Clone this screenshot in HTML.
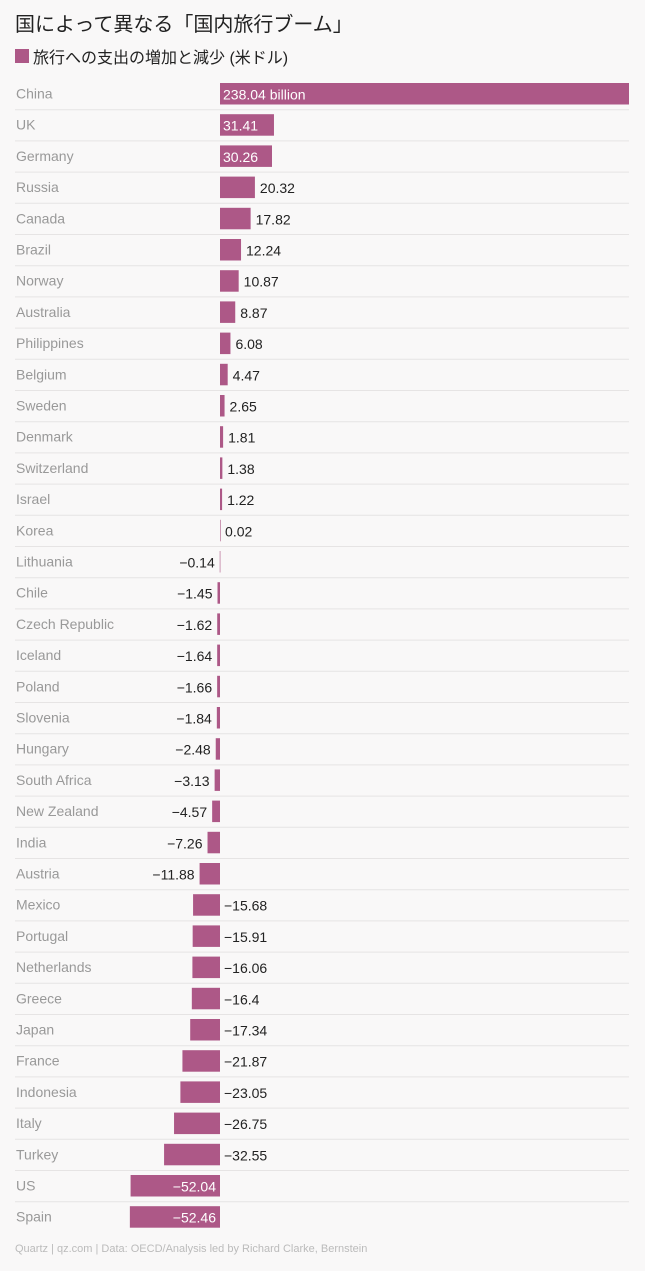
<!DOCTYPE html>
<html><head><meta charset="utf-8"><style>
body{margin:0;background:#f9f8f8;width:645px;height:1271px;overflow:hidden;font-family:"Liberation Sans","Noto Sans CJK JP",sans-serif;}
#title{position:absolute;left:15px;top:8px;font-size:20px;color:#222;}
#legend{position:absolute;left:15px;top:44px;font-size:16px;color:#222;display:flex;align-items:center;}
#legend span.sw{width:14px;height:14px;background:#ad5887;margin-right:4px;display:inline-block;}
#foot{position:absolute;left:15px;top:1243px;font-size:11px;color:#bbb;}
</style></head><body>
<div id="title">国によって異なる「国内旅行ブーム」</div>
<div id="legend"><span class="sw"></span>旅行への支出の増加と減少 (米ドル)</div>
<svg id="chart" width="645" height="1240" style="position:absolute;left:0;top:0"></svg>
<div id="foot">Quartz | qz.com | Data: OECD/Analysis led by Richard Clarke, Bernstein</div>
<script>
const categories=["China","UK","Germany","Russia","Canada","Brazil","Norway","Australia","Philippines","Belgium","Sweden","Denmark","Switzerland","Israel","Korea","Lithuania","Chile","Czech Republic","Iceland","Poland","Slovenia","Hungary","South Africa","New Zealand","India","Austria","Mexico","Portugal","Netherlands","Greece","Japan","France","Indonesia","Italy","Turkey","US","Spain"];
const values=[238.04,31.41,30.26,20.32,17.82,12.24,10.87,8.87,6.08,4.47,2.65,1.81,1.38,1.22,0.02,-0.14,-1.45,-1.62,-1.64,-1.66,-1.84,-2.48,-3.13,-4.57,-7.26,-11.88,-15.68,-15.91,-16.06,-16.4,-17.34,-21.87,-23.05,-26.75,-32.55,-52.04,-52.46];
const svg=document.getElementById('chart');
const NS='http://www.w3.org/2000/svg';
const zeroX=220, scale=409/238.04;
const x=v=>zeroX+v*scale;
const rowY=i=>78.5+i*31.2;
const fmt=v=>(v<0?'−'+String(Math.abs(v)):String(v));
function mk(t,a){const e=document.createElementNS(NS,t);for(const k in a)e.setAttribute(k,a[k]);svg.appendChild(e);return e;}
categories.forEach((c,i)=>{
  const v=values[i], y=rowY(i);
  if(i>0){const l=mk('line',{x1:15,x2:629,y1:y,y2:y,stroke:'#e6e4e4','stroke-width':1});
    
    }
  const lab=mk('text',{x:16,y:y+20,'font-size':14,fill:'#999'});
  lab.textContent=c;
  
  
  const x0=Math.min(x(0),x(v)), w=Math.max(Math.abs(x(v)-x(0)),0.6);
  const r=mk('rect',{x:x0,y:y+4.5,width:w,height:21.5,fill:'#ad5887'});
  
  
  const inside=(v>25)||(v<-40);
  let tx,anchor='start',col='#222';
  if(inside){col='#fff';if(v>0){tx=zeroX+3;}else{tx=zeroX-4;anchor='end';}}
  else if(v>=0){tx=x(v)+5;}
  else if(v<=-15){tx=zeroX+4;}
  else{tx=x(v)-5;anchor='end';}
  const t=mk('text',{x:tx,y:y+21,'font-size':14,fill:col,'text-anchor':anchor});
  t.textContent=fmt(v)+(i===0?' billion':'');
  
  
});
</script>
</body></html>
